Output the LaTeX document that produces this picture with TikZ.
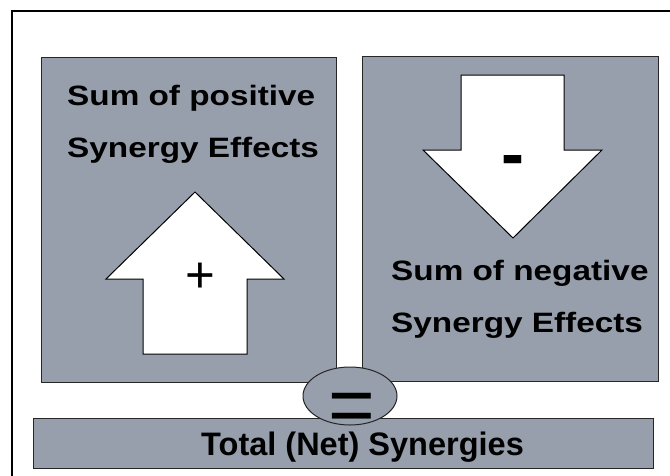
\documentclass[tikz,border=0pt]{standalone}
\usepackage{fontspec}
\setmainfont{Liberation Sans}
\usepackage{graphicx}
\usetikzlibrary{shapes.geometric}
\definecolor{boxgray}{RGB}{150,159,171}
\tikzset{
  panel/.style={draw=black!85, line width=1pt, fill=boxgray, inner sep=0pt},
  bigarrow/.style={draw=black, line width=1pt, fill=white, line join=miter},
  lbl/.style={font=\bfseries\fontsize{28}{28}\selectfont, anchor=base west, inner sep=0pt},
  sign/.style={anchor=base, inner sep=0pt},
}
\newcommand\widetext[1]{\scalebox{1.19}[1]{#1}}
\begin{document}
\begin{tikzpicture}[x=1pt,y=-1pt]
\useasboundingbox (0,0) rectangle (670,475);
\fill[white] (0,0) rectangle (670,475);
% outer frame (cut off at right and bottom)
\draw[line width=2pt] (12,476) -- (12,11) -- (671,11);
% panels
\node[panel, minimum width=295pt, minimum height=325pt, anchor=north west] (left) at (41,57) {};
\node[panel, minimum width=296pt, minimum height=325pt, anchor=north west] (right) at (362,56) {};
\node[panel, minimum width=620pt, minimum height=50pt, anchor=north west] (bottom) at (33,418) {};
% arrows
\draw[bigarrow] (195,192) -- (284,279) -- (247,279) -- (247,354) -- (143,354) -- (143,279) -- (106,279) -- cycle;
\draw[bigarrow] (461,75) -- (564,75) -- (564,150) -- (602,150) -- (513,238) -- (423,150) -- (461,150) -- cycle;
% labels
\node[lbl] (p1) at (67,105) {\widetext{Sum of positive}};
\node[lbl] (p2) at (67,157) {\widetext{Synergy Effects}};
\node[lbl] (n1) at (391,280) {\widetext{Sum of negative}};
\node[lbl] (n2) at (391,332) {\widetext{Synergy Effects}};
\node[sign, font=\fontsize{51}{51}\selectfont] (plus) at (200,292) {+};
\node[sign, font=\bfseries\fontsize{69}{69}\selectfont] (minus) at (512.5,177) {-};
\node[font=\bfseries\fontsize{32.5}{32.5}\selectfont, anchor=base west, inner sep=0pt] (total) at (201,455) {Total (Net) Synergies};
% equals ellipse
\node[panel, ellipse, minimum width=94pt, minimum height=58pt] (eq) at (350,396) {};
\node[sign, font=\fontsize{80}{80}\selectfont] (eqsign) at (351.5,432) {=};
\end{tikzpicture}
\end{document}
